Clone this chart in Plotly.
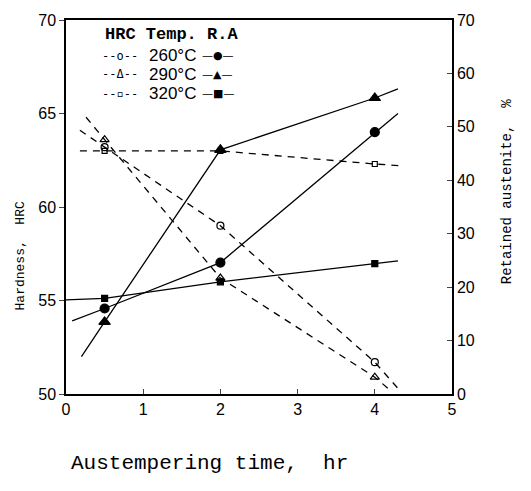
import plotly.graph_objects as go

# ---- data ----
time_hr = [0.5, 2, 4]

# Hardness (HRC), left axis, dashed lines with open markers
hrc_260 = [63.2, 59.0, 51.7]
hrc_290 = [63.6, 56.2, 50.9]
hrc_320 = [63.0, 63.0, 62.3]

# Retained austenite (%), right axis, solid lines with filled markers
ra_260 = [16.0, 24.6, 49.0]
ra_290 = [13.5, 45.7, 55.4]
ra_320 = [17.9, 21.0, 24.4]

# ends of the drawn guide lines (start x, start value, end x, end value)
hrc_260_ends = [0.18, 64.1, 4.30, 50.3]
hrc_290_ends = [0.26, 64.8, 4.20, 50.2]
hrc_320_ends = [0.18, 63.0, 4.36, 62.2]
ra_260_ends = [0.08, 13.7, 4.30, 52.5]
ra_290_ends = [0.20, 7.0, 4.30, 57.1]
ra_320_ends = [0.00, 17.6, 4.30, 24.9]

temps = ["260°C", "290°C", "320°C"]
x_ticks = [0, 1, 2, 3, 4, 5]
hrc_ticks = [50, 55, 60, 65, 70]
ra_ticks = [0, 10, 20, 30, 40, 50, 60, 70]

fig = go.Figure()


def series(xs, ys, ends, marker_sym, msize, dash, yaxis):
    x_all = [ends[0]] + list(xs) + [ends[2]]
    y_all = [ends[1]] + list(ys) + [ends[3]]
    sizes = [0] + [msize] * len(xs) + [0]
    fig.add_trace(go.Scatter(
        x=x_all, y=y_all, yaxis=yaxis, mode="lines+markers",
        line=dict(color="black", width=1.3, dash=dash),
        marker=dict(symbol=marker_sym, size=sizes, color="black", opacity=1,
                    line=dict(color="black", width=1.2)),
        showlegend=False, hoverinfo="skip"))


series(time_hr, hrc_260, hrc_260_ends, "circle-open", 7, "7px,6px", "y")
series(time_hr, hrc_290, hrc_290_ends, "triangle-up-open", 8, "7px,6px", "y")
series(time_hr, hrc_320, hrc_320_ends, "square-open", 5, "7px,6px", "y")
series(time_hr, ra_260, ra_260_ends, "circle", 9, "solid", "y2")
series(time_hr, ra_290, ra_290_ends, "triangle-up", 10, "solid", "y2")
series(time_hr, ra_320, ra_320_ends, "square", 6, "solid", "y2")

# ---- legend drawn as text, like the original ----
mono = "Liberation Mono"
ann = []
ann.append(dict(x=0.48, y=69.25, xref="x", yref="y", xanchor="left",
                text="<b>HRC Temp. R.A</b>", showarrow=False,
                font=dict(family=mono, size=17, color="black")))
left_samples = ["--o--", "--Δ--", "--▫--"]
right_samples = ["—●—", "—▲—", "—■—"]
row_y = [68.1, 67.1, 66.05]
for ls, t, rs, yy in zip(left_samples, temps, right_samples, row_y):
    ann.append(dict(x=0.44, y=yy, xref="x", yref="y", xanchor="left",
                    text=ls, showarrow=False,
                    font=dict(family="DejaVu Sans Mono", size=12, color="black")))
    ann.append(dict(x=1.05, y=yy, xref="x", yref="y", xanchor="left",
                    text=t, showarrow=False,
                    font=dict(family="Liberation Sans", size=17, color="black")))
    ann.append(dict(x=1.74, y=yy, xref="x", yref="y", xanchor="left",
                    text=rs, showarrow=False,
                    font=dict(family="DejaVu Sans", size=11, color="black")))

# axis titles
ann.append(dict(x=0.373, y=-0.185, xref="paper", yref="paper", xanchor="center",
                yanchor="middle", text="Austempering time,  hr", showarrow=False,
                font=dict(family=mono, size=21, color="black")))
ann.append(dict(x=-0.117, y=0.37, xref="paper", yref="paper", xanchor="center",
                yanchor="middle", text="Hardness,  HRC", showarrow=False,
                textangle=-90, font=dict(family=mono, size=13, color="black")))
ann.append(dict(x=1.143, y=0.54, xref="paper", yref="paper", xanchor="center",
                yanchor="middle", text="Retained austenite,  %", showarrow=False,
                textangle=-90, font=dict(family=mono, size=14, color="black")))

tickfont = dict(family="Liberation Sans", size=16, color="black")

fig.update_layout(
    width=531, height=491,
    margin=dict(l=66, r=79, t=14, b=97),
    paper_bgcolor="white", plot_bgcolor="white",
    annotations=ann,
    xaxis=dict(range=[0, 5], tickvals=x_ticks, ticks="inside", ticklen=5,
               showline=True, linecolor="black", linewidth=1.5, mirror=True,
               showgrid=False, zeroline=False, tickfont=tickfont),
    yaxis=dict(range=[50, 70], tickvals=hrc_ticks, ticks="outside", ticklen=5,
               showline=True, linecolor="black", linewidth=1.5, mirror=False,
               showgrid=False, zeroline=False, tickfont=tickfont),
    yaxis2=dict(range=[0, 70], tickvals=ra_ticks, ticks="inside", ticklen=5,
                overlaying="y", side="right", showline=True, linecolor="black",
                linewidth=1.5, showgrid=False, zeroline=False, tickfont=tickfont),
)

fig.write_html("out.html")
